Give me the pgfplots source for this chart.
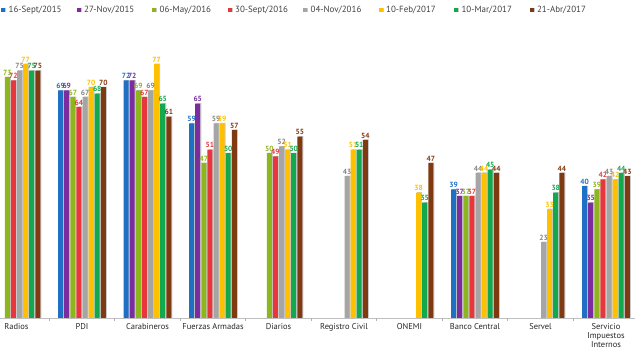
\documentclass[border=0pt]{standalone}
\usepackage{pgfplots}
\pgfplotsset{compat=1.18}
\usetikzlibrary{shadows}
\usepackage{fontspec}
\setmainfont{PT Sans}
\definecolor{cA}{HTML}{1F6FC5}
\definecolor{cB}{HTML}{7B2C9E}
\definecolor{cC}{HTML}{8DB51E}
\definecolor{cD}{HTML}{E8373C}
\definecolor{cE}{HTML}{A5A5A5}
\definecolor{cF}{HTML}{FFC000}
\definecolor{cG}{HTML}{12A84E}
\definecolor{cH}{HTML}{7F3A12}
\definecolor{txt}{HTML}{404040}
\newcommand{\legtxt}[1]{\makebox[66bp][l]{#1}}
\begin{document}
\begin{tikzpicture}
\useasboundingbox (0,0) rectangle (635bp,354bp);
\begin{axis}[
  at={(0bp,36bp)}, anchor=south west,
  scale only axis, width=635bp, height=297bp,
  xmin=-0.2519, xmax=9.443, ymin=0, ymax=90,
  /pgf/number format/assume math mode=true,
  ybar=1.1bp, bar width=5bp,
  axis x line*=bottom, axis y line=none, ytick=\empty,
  x axis line style={draw=black!25, line width=0.8bp},
  xtick={0,...,9},
  xticklabels={Radios,PDI,Carabineros,Fuerzas Armadas,Diarios,Registro Civil,ONEMI,Banco Central,Servel,{Servicio\\Impuestos\\Internos}},
  xticklabel style={align=center, font=\fontsize{8.5}{9}\selectfont, text=black!85, anchor=north, yshift=-2bp},
  major tick length=0pt,
  extra x ticks={0.5,1.5,2.5,3.5,4.5,5.5,6.5,7.5,8.5},
  extra x tick labels={},
  extra x tick style={major tick length=3bp, tick align=outside, tick style={draw=black!30, line width=0.6bp}},
  every axis plot/.append style={draw=none, drop shadow={shadow xshift=1.1bp, shadow yshift=0.4bp, fill=black!35, opacity=0.6}},
  nodes near coords,
  every node near coord/.append style={font=\bfseries\fontsize{7.5}{8}\selectfont, inner sep=1.5bp},
  legend columns=8,
  legend style={at={(axis description cs:0,1)}, anchor=west, yshift=11bp, xshift=1bp, draw=none, fill=none, font=\fontsize{9}{10}\selectfont, text=txt, inner sep=0pt, /tikz/every odd column/.append style={column sep=1.5bp}},
  legend image code/.code={\fill[#1] (0bp,-2bp) rectangle (4bp,2bp);},
]
\addplot[fill=cA, every node near coord/.append style={text=cA}] coordinates {(1,69) (2,72) (3,59) (7,39) (9,40)};
\addplot[fill=cB, every node near coord/.append style={text=cB}] coordinates {(1,69) (2,72) (3,65) (7,37) (9,35)};
\addplot[fill=cC, every node near coord/.append style={text=cC}] coordinates {(0,73) (1,67) (2,69) (3,47) (4,50) (7,37) (9,39)};
\addplot[fill=cD, every node near coord/.append style={text=cD}] coordinates {(0,72) (1,64) (2,67) (3,51) (4,49) (7,37) (9,42)};
\addplot[fill=cE, every node near coord/.append style={text=cE!80!black}] coordinates {(0,75) (1,67) (2,69) (3,59) (4,52) (5,43) (7,44) (8,23) (9,43)};
\addplot[fill=cF, every node near coord/.append style={text=cF}] coordinates {(0,77) (1,70) (2,77) (3,59) (4,51) (5,51) (6,38) (7,44) (8,33) (9,42)};
\addplot[fill=cG, every node near coord/.append style={text=cG}] coordinates {(0,75) (1,68) (2,65) (3,50) (4,50) (5,51) (6,35) (7,45) (8,38) (9,44)};
\addplot[fill=cH, every node near coord/.append style={text=cH}] coordinates {(0,75) (1,70) (2,61) (3,57) (4,55) (5,54) (6,47) (7,44) (8,44) (9,43)};
\legend{\legtxt{16-Sept/2015},\legtxt{27-Nov/2015},\legtxt{06-May/2016},\legtxt{30-Sept/2016},\legtxt{04-Nov/2016},\legtxt{10-Feb/2017},\legtxt{10-Mar/2017},\legtxt{21-Abr/2017}}
\end{axis}
\end{tikzpicture}
\end{document}
